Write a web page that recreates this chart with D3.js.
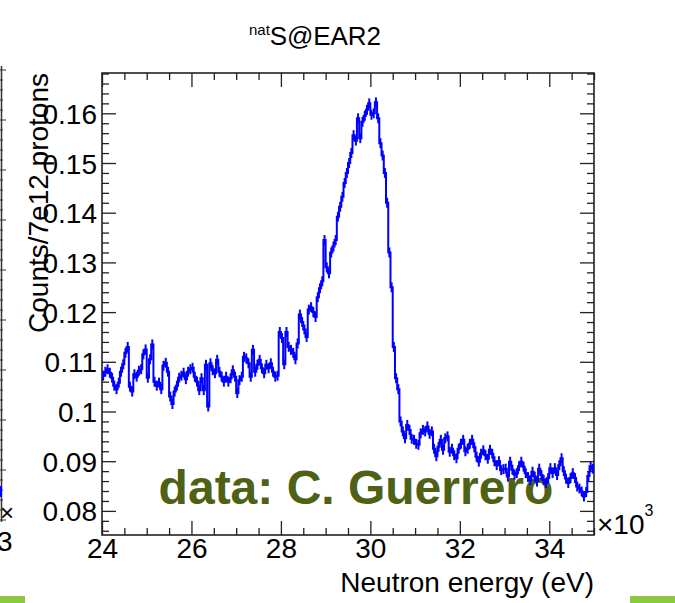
<!DOCTYPE html>
<html><head><meta charset="utf-8">
<script src="https://cdn.jsdelivr.net/npm/d3@7"></script>
<style>
body{margin:0;background:#fff}
svg{display:block}
text{font-family:"Liberation Sans",Arial,Helvetica,sans-serif}
</style>
</head><body>
<svg id="c" width="675" height="603"></svg>
<script>
// ---------------- data ----------------
const binStart = 24.0;      // keV (axis shown in units of 10^3 eV)
const binWidth = 0.05;      // keV
const counts = [
0.1072,0.1080,0.1085,0.1078,0.1068,0.1052,0.1045,0.1058,0.1080,0.1095,
0.1118,0.1130,0.1050,0.1040,0.1075,0.1070,0.1082,0.1085,0.1115,0.1125,
0.1068,0.1105,0.1135,0.1060,0.1052,0.1058,0.1045,0.1092,0.1098,0.1080,
0.1030,0.1015,0.1040,0.1052,0.1068,0.1072,0.1078,0.1065,0.1080,0.1085,
0.1088,0.1070,0.1060,0.1043,0.1067,0.1043,0.1094,0.1010,0.1097,0.1083,
0.1077,0.1104,0.1080,0.1070,0.1060,0.1070,0.1060,0.1067,0.1083,0.1070,
0.1037,0.1063,0.1070,0.1110,0.1107,0.1097,0.1070,0.1124,0.1080,0.1094,
0.1104,0.1087,0.1077,0.1094,0.1087,0.1097,0.1080,0.1070,0.1072,0.1160,
0.1148,0.1095,0.1160,0.1130,0.1124,0.1118,0.1105,0.1137,0.1195,0.1180,
0.1165,0.1150,0.1205,0.1210,0.1200,0.1190,0.1230,0.1248,0.1262,0.1345,
0.1290,0.1278,0.1320,0.1332,0.1345,0.1392,0.1412,0.1432,0.1460,0.1480,
0.1500,0.1520,0.1556,0.1545,0.1590,0.1550,0.1583,0.1595,0.1607,0.1620,
0.1597,0.1600,0.1622,0.1590,0.1540,0.1515,0.1480,0.1420,0.1320,0.1250,
0.1130,0.1067,0.1045,0.0980,0.0960,0.0946,0.0973,0.0963,0.0945,0.0943,
0.0935,0.0933,0.0956,0.0963,0.0960,0.0970,0.0955,0.0960,0.0925,0.0910,
0.0929,0.0943,0.0923,0.0946,0.0950,0.0919,0.0925,0.0912,0.0906,0.0925,
0.0935,0.0943,0.0920,0.0925,0.0935,0.0943,0.0928,0.0909,0.0899,0.0915,
0.0922,0.0912,0.0905,0.0923,0.0915,0.0900,0.0892,0.0900,0.0882,0.0884,
0.0885,0.0869,0.0899,0.0883,0.0873,0.0876,0.0890,0.0899,0.0889,0.0876,
0.0868,0.0862,0.0879,0.0869,0.0859,0.0885,0.0872,0.0862,0.0856,0.0866,
0.0886,0.0876,0.0886,0.0872,0.0892,0.0906,0.0880,0.0865,0.0856,0.0866,
0.0876,0.0866,0.0849,0.0845,0.0839,0.0829,0.0838,0.0870,0.0890,0.0885
];
const countErr = 0.0010;
const xMajorTicks = [24, 26, 28, 30, 32, 34];
const xTickLabels = ["24", "26", "28", "30", "32", "34"];
const yMajorTicks = [0.08, 0.09, 0.10, 0.11, 0.12, 0.13, 0.14, 0.15, 0.16];
const yTickLabels = ["0.08", "0.09", "0.1", "0.11", "0.12", "0.13", "0.14", "0.15", "0.16"];
const titleSup = "nat", titleMain = "S@EAR2";
const xTitle = "Neutron energy (eV)";
const yTitle = "Counts/7e12 protons";
const credit = "data: C. Guerrero";

// ---------------- layout ----------------
const svg = d3.select("#c");
const L = 102, R = 594, T = 73, B = 535;
const x = d3.scaleLinear().domain([24, 35]).range([L, R]);
const y = d3.scaleLinear().domain([0.07515, 0.16811]).range([B, T]);
const axisCol = "#222";
const FS = 28;

// minor tick values
const xMinor = d3.range(24, 35.001, 0.5).filter(v => Math.abs(v/2 - Math.round(v/2)) > 1e-6);
const yMinor = d3.range(0.076, 0.1681, 0.002).filter(v => Math.abs(v*100 - Math.round(v*100)) > 1e-6);

function styleAxis(g){
  g.select(".domain").remove();
  g.selectAll(".tick line").attr("stroke", axisCol).attr("stroke-width", 1.3);
  g.selectAll(".tick text").attr("font-size", FS).attr("fill", "#000")
    .attr("font-family", '"Liberation Sans",Arial,sans-serif');
}

// bottom axis
svg.append("g").attr("transform", `translate(0,${B})`)
  .call(d3.axisBottom(x).tickValues(xMajorTicks).tickSize(-14).tickPadding(3)
    .tickFormat((d, i) => xTickLabels[i])).call(styleAxis);
svg.append("g").attr("transform", `translate(0,${B})`)
  .call(d3.axisBottom(x).tickValues(xMinor).tickSize(-7).tickFormat("")).call(styleAxis);
// top axis
svg.append("g").attr("transform", `translate(0,${T})`)
  .call(d3.axisTop(x).tickValues(xMajorTicks).tickSize(-14).tickFormat("")).call(styleAxis);
svg.append("g").attr("transform", `translate(0,${T})`)
  .call(d3.axisTop(x).tickValues(xMinor).tickSize(-7).tickFormat("")).call(styleAxis);
// left axis
svg.append("g").attr("transform", `translate(${L},0)`)
  .call(d3.axisLeft(y).tickValues(yMajorTicks).tickSize(-14).tickPadding(5)
    .tickFormat((d, i) => yTickLabels[i])).call(styleAxis)
  .selectAll(".tick text").attr("dy", "0.36em");
svg.append("g").attr("transform", `translate(${L},0)`)
  .call(d3.axisLeft(y).tickValues(yMinor).tickSize(-7).tickFormat("")).call(styleAxis);
// right axis
svg.append("g").attr("transform", `translate(${R},0)`)
  .call(d3.axisRight(y).tickValues(yMajorTicks).tickSize(-14).tickFormat("")).call(styleAxis);
svg.append("g").attr("transform", `translate(${R},0)`)
  .call(d3.axisRight(y).tickValues(yMinor).tickSize(-7).tickFormat("")).call(styleAxis);

// frame
svg.append("rect").attr("x", L).attr("y", T).attr("width", R - L).attr("height", B - T)
  .attr("fill", "none").attr("stroke", axisCol).attr("stroke-width", 1.6);

// credit text (behind data)
svg.append("text").attr("x", 356).attr("y", 504).attr("text-anchor", "middle")
  .attr("font-size", 48).attr("font-weight", "bold").attr("fill", "#4e6114").text(credit);

// histogram
const bins = counts.map((v, i) => ({lo: binStart + i*binWidth, hi: binStart + (i+1)*binWidth, v}));
let p = d3.path();
bins.forEach((b, i) => {
  if (i === 0) p.moveTo(x(b.lo), y(b.v)); else p.lineTo(x(b.lo), y(b.v));
  p.lineTo(x(b.hi), y(b.v));
});
const plot = svg.append("g");
plot.append("path").attr("d", p.toString()).attr("fill", "none")
  .attr("stroke", "#0000ff").attr("stroke-width", 2);
plot.selectAll("line.err").data(bins).join("line").attr("class", "err")
  .attr("x1", b => x((b.lo + b.hi)/2)).attr("x2", b => x((b.lo + b.hi)/2))
  .attr("y1", b => y(b.v - countErr)).attr("y2", b => y(b.v + countErr))
  .attr("stroke", "#0000ff").attr("stroke-width", 2);

// title
const tt = svg.append("text").attr("y", 45).attr("x", 249);
tt.append("tspan").attr("font-size", 15).attr("dy", -10).text(titleSup);
tt.append("tspan").attr("font-size", 26).attr("dy", 10).attr("textLength", 111).text(titleMain);

// x title
svg.append("text").attr("x", R).attr("y", 592).attr("text-anchor", "end")
  .attr("font-size", FS).text(xTitle);
// exponent
const ex = svg.append("text").attr("x", 597).attr("y", 534).attr("font-size", FS);
ex.append("tspan").text("\u00d710");
ex.append("tspan").attr("font-size", 16).attr("dy", -18).text("3");

// y title
svg.append("text").attr("transform", `translate(48,${T}) rotate(-90)`)
  .attr("text-anchor", "end").attr("font-size", FS).text(yTitle);

// neighbouring-panel remnants at the left edge
const edge = svg.append("g");
edge.append("line").attr("x1", 1.5).attr("x2", 1.5).attr("y1", 66).attr("y2", 522)
  .attr("stroke", "#333").attr("stroke-width", 1.5);
edge.selectAll("line.et").data(d3.range(0, 46)).join("line").attr("class", "et")
  .attr("x1", 0).attr("x2", (d) => d % 5 === 0 ? 6 : 3)
  .attr("y1", d => 70 + d*10).attr("y2", d => 70 + d*10)
  .attr("stroke", "#333").attr("stroke-width", 1);
edge.append("line").attr("x1", 1).attr("x2", 1).attr("y1", 486).attr("y2", 497)
  .attr("stroke", "#0000ff").attr("stroke-width", 2);
edge.append("text").attr("x", 0).attr("y", 521).attr("font-size", 24).text("\u00d7");
edge.append("text").attr("x", -3).attr("y", 551).attr("font-size", FS).text("3");
svg.append("rect").attr("x", 0).attr("y", 596).attr("width", 25).attr("height", 7).attr("fill", "#8dc63f");
svg.append("rect").attr("x", 630).attr("y", 596).attr("width", 45).attr("height", 7).attr("fill", "#8dc63f");
</script>
</body></html>
